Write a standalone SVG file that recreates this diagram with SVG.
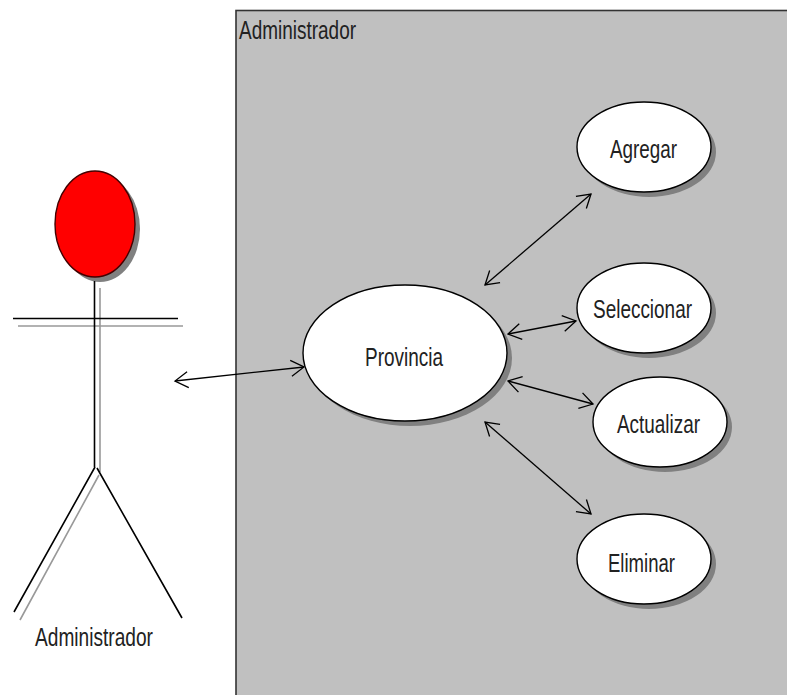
<svg xmlns="http://www.w3.org/2000/svg" width="787" height="695" viewBox="0 0 787 695">
<style>
text{font-family:"Liberation Sans",Arial,sans-serif;font-size:26px;fill:#222;text-anchor:start}
.shadow{fill:#808080;stroke:none}
.uc{fill:#fff;stroke:#000;stroke-width:1.4}
.blk{stroke:#000;stroke-width:1.6;fill:none}
.gry{stroke:#999;stroke-width:1.6;fill:none}
.conn{stroke:#000;stroke-width:1.3;fill:none;marker-start:url(#a);marker-end:url(#a)}
</style>
<defs>
<marker id="a" markerUnits="userSpaceOnUse" markerWidth="34" markerHeight="34" refX="17" refY="17" orient="auto-start-reverse" overflow="visible">
<path d="M4 9 L17 17 L4 25" fill="none" stroke="#000" stroke-width="1.3"/>
</marker>
</defs>
<rect width="787" height="695" fill="#fff"/>
<g id="system">
<rect x="236" y="10.5" width="560" height="700" fill="#c0c0c0" stroke="#333" stroke-width="1.6"/>
<text x="239" y="39" textLength="117" lengthAdjust="spacingAndGlyphs">Administrador</text>
</g>
<g id="actor">
<path class="gry" d="M100 288V472M18 326H183M99 475L20 620"/>
<ellipse class="shadow" cx="100" cy="229" rx="40" ry="53"/>
<ellipse cx="95" cy="224" rx="40" ry="53" fill="#f00" stroke="#400" stroke-width="1.4"/>
<path class="blk" d="M94.500 281V467M13 318.500H178M95 467L14 612M97 468L182 618"/>
<text x="35" y="646" textLength="118" lengthAdjust="spacingAndGlyphs">Administrador</text>
</g>
<g id="provincia">
<ellipse class="shadow" cx="410" cy="358" rx="102" ry="68"/>
<ellipse class="uc" cx="405" cy="353" rx="102" ry="68"/>
<text x="365" y="366" textLength="78" lengthAdjust="spacingAndGlyphs">Provincia</text>
</g>
<g id="agregar">
<ellipse class="shadow" cx="649" cy="152" rx="67" ry="45"/>
<ellipse class="uc" cx="644" cy="147" rx="67" ry="45"/>
<text x="610" y="158" textLength="67" lengthAdjust="spacingAndGlyphs">Agregar</text>
</g>
<g id="seleccionar">
<ellipse class="shadow" cx="649" cy="313" rx="67" ry="45"/>
<ellipse class="uc" cx="644" cy="308" rx="67" ry="45"/>
<text x="593" y="318" textLength="99" lengthAdjust="spacingAndGlyphs">Seleccionar</text>
</g>
<g id="actualizar">
<ellipse class="shadow" cx="665" cy="427" rx="67" ry="45"/>
<ellipse class="uc" cx="660" cy="422" rx="67" ry="45"/>
<text x="617" y="433" textLength="83" lengthAdjust="spacingAndGlyphs">Actualizar</text>
</g>
<g id="eliminar">
<ellipse class="shadow" cx="649" cy="564" rx="67" ry="45"/>
<ellipse class="uc" cx="644" cy="559" rx="67" ry="45"/>
<text x="608" y="572" textLength="67" lengthAdjust="spacingAndGlyphs">Eliminar</text>
</g>
<g id="connectors">
<line class="conn" x1="175" y1="381" x2="304" y2="367"/>
<line class="conn" x1="485" y1="285" x2="591" y2="194"/>
<line class="conn" x1="508" y1="334" x2="576" y2="321"/>
<line class="conn" x1="508" y1="381" x2="593" y2="404"/>
<line class="conn" x1="485" y1="422" x2="591" y2="514"/>
</g>
</svg>
